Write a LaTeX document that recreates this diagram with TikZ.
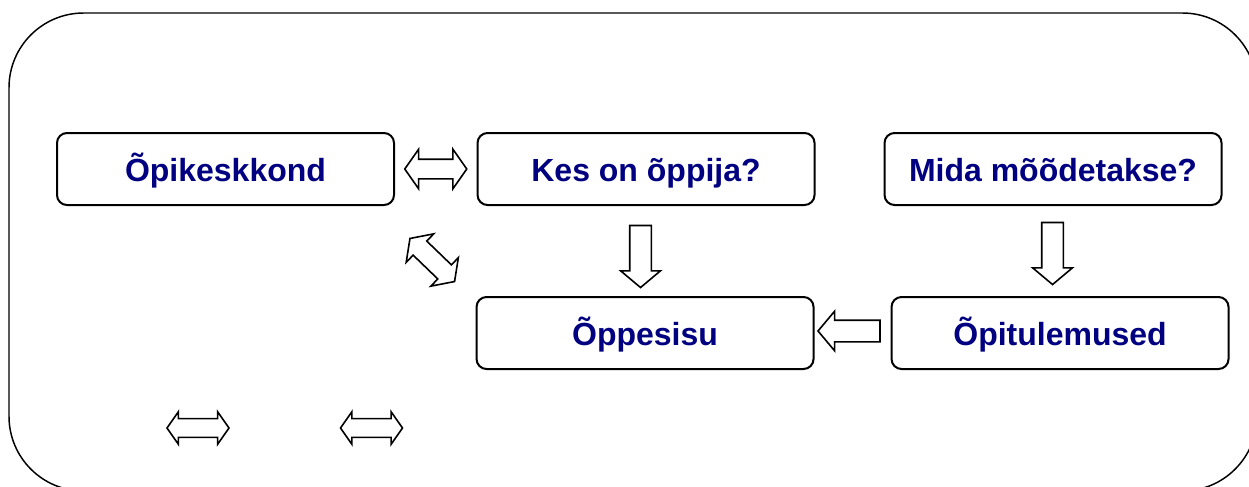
\documentclass[tikz,border=0pt]{standalone}
\usepackage{fontspec}
\setmainfont{Liberation Sans}
\usepackage{tikz}
\usetikzlibrary{shapes,arrows,calc}

\definecolor{navytext}{RGB}{0,0,128}

\begin{document}
\begin{tikzpicture}[x=0.75pt,y=-0.75pt,node distance=315pt]
\tikzstyle{box} = [rectangle, draw, line width=1.5pt, rounded corners=7.5pt,
                   minimum width=252.75pt, minimum height=54pt,
                   text height=22pt, text depth=4pt,
                   text=navytext, font=\fontsize{24}{28}\selectfont\bfseries]
\tikzstyle{blockarr} = [single arrow, draw, fill=white, line width=1.2pt,
                        inner xsep=0pt, inner ysep=7.5pt, minimum height=46.5pt,
                        single arrow head extend=6.75pt,
                        single arrow tip angle=100]
\tikzstyle{twoway} = [double arrow, draw, fill=white, line width=1.2pt,
                      inner xsep=0pt, inner ysep=6.75pt, minimum height=46.5pt,
                      double arrow head extend=7.5pt,
                      double arrow tip angle=110]
\tikzstyle{smalltwoway} = [twoway, inner ysep=6.4pt,
                           double arrow head extend=5.25pt]

\useasboundingbox (0,0) rectangle (1249,486);
\clip (0,0) rectangle (1249,486);

% outer frame
\draw[line width=1.1pt, rounded corners=56pt] (9,13) rectangle (1257,491);

% boxes
\node[box] (opik) at (225.5,169) {Õpikeskkond};
\node[box][right of=opik, node distance=315.4pt] (kes) {Kes on õppija?};
\node[box][right of=kes, node distance=305.25pt] (mida) {Mida mõõdetakse?};
\node[box][below of=kes, node distance=123pt, xshift=-0.75pt] (sisu) {Õppesisu};
\node[box][right of=sisu, node distance=311.25pt] (tulem) {Õpitulemused};

% block arrows between the boxes
\node[twoway] (opikkes) at ($(opik.east)!0.5!(kes.west)$) {};
\node[twoway, rotate=-44] (opiksisu)
     at ($(opik.south east)!0.5!(sisu.north west)+(-3,9)$) {};
\node[blockarr, rotate=-90] (kessisu) at ($(kes.south)!0.5!(sisu.north)+(-5,1)$) {};
\node[blockarr, rotate=-90] (midatulem) at ($(mida.south)!0.5!(tulem.north)+(-4,-2)$) {};
\node[blockarr, rotate=180] (tulemsisu) at ($(tulem.west)!0.5!(sisu.east)+(1,-2)$) {};

% the two lone arrows at the bottom
\node[smalltwoway] (vasak) at (198,428) {};
\node[smalltwoway] (parem) at (371.5,428) {};
\end{tikzpicture}
\end{document}
